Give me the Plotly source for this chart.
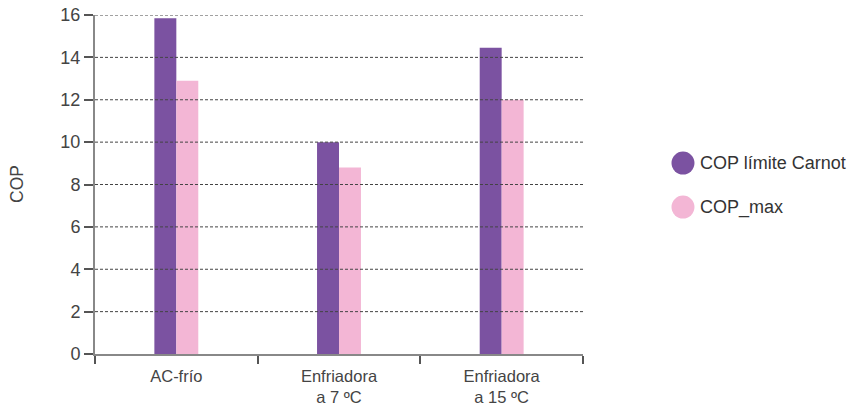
import plotly.graph_objects as go

categories = ["AC-frío", "Enfriadora<br>a 7 ºC", "Enfriadora<br>a 15 ºC"]
cop_carnot = [15.85, 10.0, 14.45]
cop_max = [12.9, 8.8, 12.0]
y_ticks = [0, 2, 4, 6, 8, 10, 12, 14, 16]
series_names = ["COP límite Carnot", "COP_max"]
colors = ["#7b52a1", "#f3b6d5"]

font = dict(family="Liberation Sans, Arial, sans-serif", size=16, color="#444")

fig = go.Figure()
for name, vals, col in zip(series_names, [cop_carnot, cop_max], colors):
    fig.add_trace(go.Bar(x=categories, y=vals, name=name, marker=dict(color=col, line=dict(width=0)),
                         showlegend=False))

for v in y_ticks[1:]:
    fig.add_shape(type="line", xref="paper", x0=0, x1=1, yref="y", y0=v, y1=v,
                  line=dict(color="#444", width=1, dash="3px,2px"), layer="above")

# manual legend with circular swatches
leg_x = 1.2049
leg_y = [0.5634, 0.4336]
for name, col, yy in zip(series_names, colors, leg_y):
    fig.add_shape(type="circle", xref="paper", yref="paper", xsizemode="pixel", ysizemode="pixel",
                  xanchor=leg_x, yanchor=yy, x0=-11.5, x1=11.5, y0=-11.5, y1=11.5,
                  fillcolor=col, line=dict(width=0))
    fig.add_annotation(x=leg_x, y=yy, xref="paper", yref="paper", text=name, showarrow=False,
                       xanchor="left", yanchor="middle", xshift=15,
                       font=dict(size=18, color="#333"))

# y-axis title
fig.add_annotation(x=-0.1598, y=0.5015, xref="paper", yref="paper", text="COP", showarrow=False,
                   textangle=-90, xanchor="center", yanchor="middle",
                   font=dict(size=17.5, color="#444"))

fig.update_layout(
    width=850, height=405,
    margin=dict(l=95, r=267, t=15, b=51, autoexpand=False),
    plot_bgcolor="white", paper_bgcolor="white",
    font=font, showlegend=False,
    barmode="group", bargap=0.73, bargroupgap=0,
    xaxis=dict(showline=True, linecolor="#888", linewidth=2, ticks="outside", tickson="boundaries",
               ticklen=8, tickcolor="#555", tickwidth=1.5, showgrid=False, zeroline=False,
               automargin=False, ticklabelstandoff=6, tickfont=dict(size=16.5, color="#444")),
    yaxis=dict(range=[0, 16], tickvals=y_ticks, showline=True, linecolor="#888", linewidth=2,
               ticks="outside", ticklen=9, tickcolor="#555", tickwidth=1.5, showgrid=False,
               zeroline=False, automargin=False,
               tickfont=dict(size=18, color="#444")),
)
fig.write_html("out.html", config={"displayModeBar": False},
               post_script="document.body.style.margin='0px';")
